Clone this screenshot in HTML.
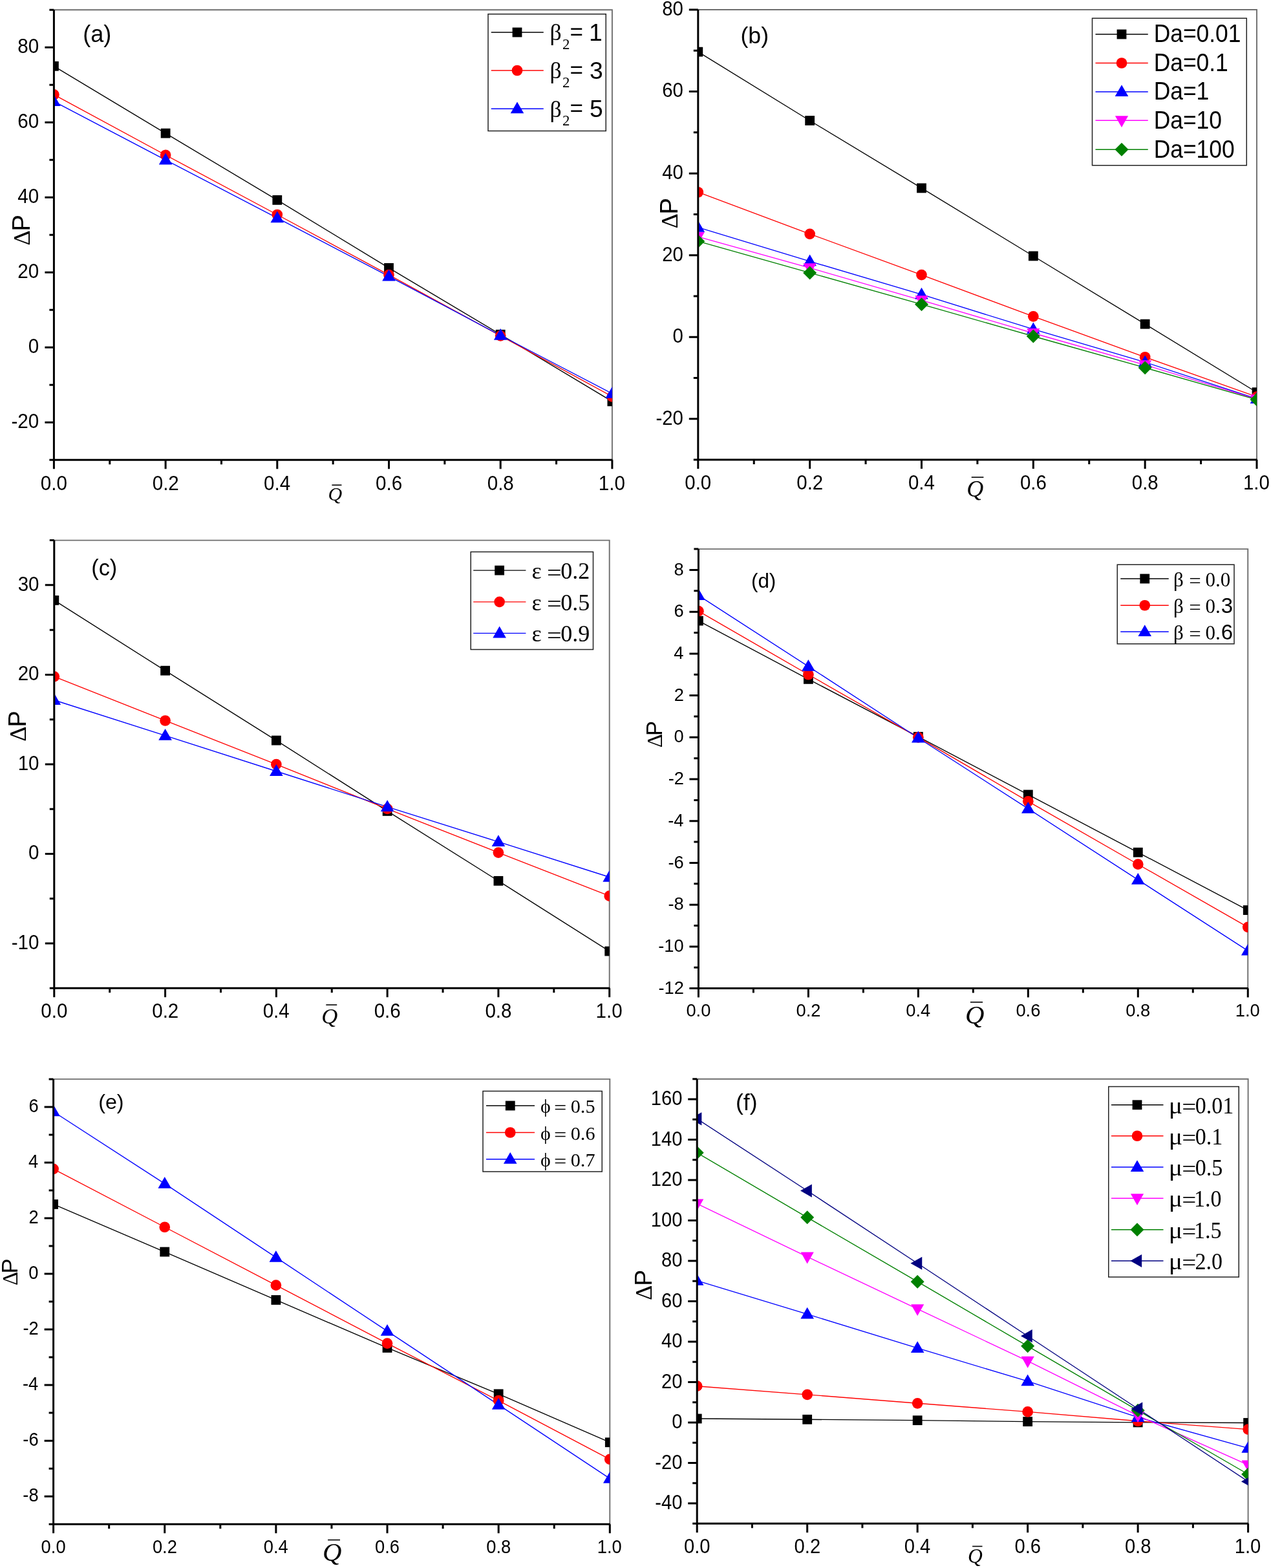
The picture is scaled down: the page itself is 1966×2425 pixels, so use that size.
<!DOCTYPE html>
<html><head><meta charset="utf-8"><title>Figure</title>
<style>html,body{margin:0;padding:0;background:#fff;}svg{display:block;}text{font-kerning:none;fill:#000;}</style></head><body>
<svg width="1966" height="2425" viewBox="0 0 1966 2425">
<rect width="1966" height="2425" fill="#fff"/>
<clipPath id="clipa"><rect x="83.40" y="15.30" width="863.50" height="696.00"/></clipPath>
<path d="M83.40 15.30 H946.90 V711.30" fill="none" stroke="#6e6e6e" stroke-width="1.90"/>
<g clip-path="url(#clipa)">
<polyline points="83.40,102.30 256.10,206.12 428.80,309.36 601.50,414.34 774.20,517.29 946.90,620.82" fill="none" stroke="#000000" stroke-width="1.35" stroke-linejoin="round"/>
<polyline points="83.40,146.38 256.10,239.76 428.80,331.98 601.50,425.07 774.20,519.32 946.90,613.28" fill="none" stroke="#FF0000" stroke-width="1.35" stroke-linejoin="round"/>
<polyline points="83.40,156.82 256.10,247.30 428.80,337.20 601.50,427.39 774.20,518.74 946.90,608.64" fill="none" stroke="#0000FF" stroke-width="1.35" stroke-linejoin="round"/>
<rect x="76.00" y="94.90" width="14.80" height="14.80" fill="#000000"/>
<rect x="248.70" y="198.72" width="14.80" height="14.80" fill="#000000"/>
<rect x="421.40" y="301.96" width="14.80" height="14.80" fill="#000000"/>
<rect x="594.10" y="406.94" width="14.80" height="14.80" fill="#000000"/>
<rect x="766.80" y="509.89" width="14.80" height="14.80" fill="#000000"/>
<rect x="939.50" y="613.42" width="14.80" height="14.80" fill="#000000"/>
<circle cx="83.40" cy="146.38" r="8.35" fill="#FF0000"/>
<circle cx="256.10" cy="239.76" r="8.35" fill="#FF0000"/>
<circle cx="428.80" cy="331.98" r="8.35" fill="#FF0000"/>
<circle cx="601.50" cy="425.07" r="8.35" fill="#FF0000"/>
<circle cx="774.20" cy="519.32" r="8.35" fill="#FF0000"/>
<circle cx="946.90" cy="613.28" r="8.35" fill="#FF0000"/>
<polygon points="83.40,146.14 93.70,163.94 73.10,163.94" fill="#0000FF"/>
<polygon points="256.10,236.62 266.40,254.42 245.80,254.42" fill="#0000FF"/>
<polygon points="428.80,326.52 439.10,344.32 418.50,344.32" fill="#0000FF"/>
<polygon points="601.50,416.71 611.80,434.51 591.20,434.51" fill="#0000FF"/>
<polygon points="774.20,508.06 784.50,525.86 763.90,525.86" fill="#0000FF"/>
<polygon points="946.90,597.96 957.20,615.76 936.60,615.76" fill="#0000FF"/>
</g>
<path d="M76.40 711.30 H83.40 M69.40 653.30 H83.40 M76.40 595.30 H83.40 M69.40 537.30 H83.40 M76.40 479.30 H83.40 M69.40 421.30 H83.40 M76.40 363.30 H83.40 M69.40 305.30 H83.40 M76.40 247.30 H83.40 M69.40 189.30 H83.40 M76.40 131.30 H83.40 M69.40 73.30 H83.40 M76.40 15.30 H83.40 M83.40 711.30 V725.30 M169.75 711.30 V718.30 M256.10 711.30 V725.30 M342.45 711.30 V718.30 M428.80 711.30 V725.30 M515.15 711.30 V718.30 M601.50 711.30 V725.30 M687.85 711.30 V718.30 M774.20 711.30 V725.30 M860.55 711.30 V718.30 M946.90 711.30 V725.30" stroke="#000" stroke-width="3.00" fill="none"/>
<path d="M83.40 15.30 V711.30 H947.40" stroke="#000" stroke-width="3.00" fill="none"/>
<text transform="translate(17.38 662.20) scale(1 1.0500)" x="0" y="0" font-size="29.60" font-family='"Liberation Sans", sans-serif'>-20</text>
<text transform="translate(43.69 546.20) scale(1 1.0500)" x="0" y="0" font-size="29.60" font-family='"Liberation Sans", sans-serif'>0</text>
<text transform="translate(27.23 430.20) scale(1 1.0500)" x="0" y="0" font-size="29.60" font-family='"Liberation Sans", sans-serif'>20</text>
<text transform="translate(27.23 314.20) scale(1 1.0500)" x="0" y="0" font-size="29.60" font-family='"Liberation Sans", sans-serif'>40</text>
<text transform="translate(27.23 198.20) scale(1 1.0500)" x="0" y="0" font-size="29.60" font-family='"Liberation Sans", sans-serif'>60</text>
<text transform="translate(27.23 82.20) scale(1 1.0500)" x="0" y="0" font-size="29.60" font-family='"Liberation Sans", sans-serif'>80</text>
<text transform="translate(62.83 757.50) scale(1 1.0500)" x="0" y="0" font-size="29.60" font-family='"Liberation Sans", sans-serif'>0.0</text>
<text transform="translate(235.69 757.50) scale(1 1.0500)" x="0" y="0" font-size="29.60" font-family='"Liberation Sans", sans-serif'>0.2</text>
<text transform="translate(408.08 757.50) scale(1 1.0500)" x="0" y="0" font-size="29.60" font-family='"Liberation Sans", sans-serif'>0.4</text>
<text transform="translate(581.00 757.50) scale(1 1.0500)" x="0" y="0" font-size="29.60" font-family='"Liberation Sans", sans-serif'>0.6</text>
<text transform="translate(753.69 757.50) scale(1 1.0500)" x="0" y="0" font-size="29.60" font-family='"Liberation Sans", sans-serif'>0.8</text>
<text transform="translate(925.78 757.50) scale(1 1.0500)" x="0" y="0" font-size="29.60" font-family='"Liberation Sans", sans-serif'>1.0</text>
<text x="128.26" y="65.13" font-size="36.07" font-family='"Liberation Sans", sans-serif'>(a)</text>
<text transform="translate(46.40 379.80) rotate(-90)" x="0" y="0" font-size="36.78" font-family='"Liberation Serif", serif'>&#916;</text><text transform="translate(46.40 357.86) rotate(-90)" x="0" y="0" font-size="38.52" font-family='"Liberation Sans", sans-serif'>P</text>
<text x="507.48" y="773.94" font-size="29.97" font-family='"Liberation Serif", serif' font-style="italic">Q</text>
<line x1="513.40" y1="750.20" x2="528.40" y2="750.20" stroke="#000" stroke-width="1.6"/>
<rect x="755.00" y="21.75" width="182.25" height="180.75" fill="none" stroke="#222" stroke-width="1.5"/>
<line x1="759.75" y1="50.00" x2="840.75" y2="50.00" stroke="#000000" stroke-width="1.35"/>
<rect x="792.60" y="42.60" width="14.80" height="14.80" fill="#000000"/>
<text x="850.50" y="62.40" font-size="35.70" font-family='"Liberation Serif", serif'>β</text><text x="869.90" y="75.60" font-size="22.80" font-family='"Liberation Serif", serif'>2</text><text x="881.59" y="61.05" font-size="35.00" font-family='"Liberation Sans", sans-serif'>=</text><text x="911.12" y="62.60" font-size="37.30" font-family='"Liberation Sans", sans-serif'>1</text>
<line x1="759.75" y1="109.00" x2="840.75" y2="109.00" stroke="#FF0000" stroke-width="1.35"/>
<circle cx="800.00" cy="109.00" r="8.35" fill="#FF0000"/>
<text x="850.50" y="121.40" font-size="35.70" font-family='"Liberation Serif", serif'>β</text><text x="869.90" y="134.60" font-size="22.80" font-family='"Liberation Serif", serif'>2</text><text x="881.59" y="120.05" font-size="35.00" font-family='"Liberation Sans", sans-serif'>=</text><text x="911.99" y="121.50" font-size="37.30" font-family='"Liberation Sans", sans-serif'>3</text>
<line x1="759.75" y1="168.25" x2="840.75" y2="168.25" stroke="#0000FF" stroke-width="1.35"/>
<polygon points="800.00,157.57 810.30,175.37 789.70,175.37" fill="#0000FF"/>
<text x="850.50" y="180.65" font-size="35.70" font-family='"Liberation Serif", serif'>β</text><text x="869.90" y="193.85" font-size="22.80" font-family='"Liberation Serif", serif'>2</text><text x="881.59" y="179.30" font-size="35.00" font-family='"Liberation Sans", sans-serif'>=</text><text x="911.92" y="180.75" font-size="37.30" font-family='"Liberation Sans", sans-serif'>5</text>
<clipPath id="clipb"><rect x="1079.80" y="15.00" width="864.20" height="696.10"/></clipPath>
<path d="M1079.80 15.00 H1944.00 V711.10" fill="none" stroke="#6e6e6e" stroke-width="1.90"/>
<g clip-path="url(#clipb)">
<polyline points="1079.80,80.18 1252.64,186.49 1425.48,290.91 1598.32,395.96 1771.16,501.19 1944.00,606.69" fill="none" stroke="#000000" stroke-width="1.35" stroke-linejoin="round"/>
<polyline points="1079.80,297.24 1252.64,361.78 1425.48,425.07 1598.32,489.30 1771.16,552.26 1944.00,613.65" fill="none" stroke="#FF0000" stroke-width="1.35" stroke-linejoin="round"/>
<polyline points="1079.80,351.66 1252.64,404.18 1425.48,455.44 1598.32,509.23 1771.16,560.17 1944.00,616.81" fill="none" stroke="#0000FF" stroke-width="1.35" stroke-linejoin="round"/>
<polyline points="1079.80,366.21 1252.64,414.31 1425.48,464.30 1598.32,515.24 1771.16,564.29 1944.00,617.44" fill="none" stroke="#FF00FF" stroke-width="1.35" stroke-linejoin="round"/>
<polyline points="1079.80,373.18 1252.64,421.90 1425.48,470.63 1598.32,519.99 1771.16,568.72 1944.00,618.08" fill="none" stroke="#008000" stroke-width="1.35" stroke-linejoin="round"/>
<rect x="1072.40" y="72.78" width="14.80" height="14.80" fill="#000000"/>
<rect x="1245.24" y="179.09" width="14.80" height="14.80" fill="#000000"/>
<rect x="1418.08" y="283.51" width="14.80" height="14.80" fill="#000000"/>
<rect x="1590.92" y="388.56" width="14.80" height="14.80" fill="#000000"/>
<rect x="1763.76" y="493.79" width="14.80" height="14.80" fill="#000000"/>
<rect x="1936.60" y="599.29" width="14.80" height="14.80" fill="#000000"/>
<circle cx="1079.80" cy="297.24" r="8.35" fill="#FF0000"/>
<circle cx="1252.64" cy="361.78" r="8.35" fill="#FF0000"/>
<circle cx="1425.48" cy="425.07" r="8.35" fill="#FF0000"/>
<circle cx="1598.32" cy="489.30" r="8.35" fill="#FF0000"/>
<circle cx="1771.16" cy="552.26" r="8.35" fill="#FF0000"/>
<circle cx="1944.00" cy="613.65" r="8.35" fill="#FF0000"/>
<polygon points="1079.80,340.98 1090.10,358.78 1069.50,358.78" fill="#0000FF"/>
<polygon points="1252.64,393.50 1262.94,411.30 1242.34,411.30" fill="#0000FF"/>
<polygon points="1425.48,444.76 1435.78,462.56 1415.18,462.56" fill="#0000FF"/>
<polygon points="1598.32,498.55 1608.62,516.35 1588.02,516.35" fill="#0000FF"/>
<polygon points="1771.16,549.49 1781.46,567.29 1760.86,567.29" fill="#0000FF"/>
<polygon points="1944.00,606.13 1954.30,623.93 1933.70,623.93" fill="#0000FF"/>
<polygon points="1069.70,359.09 1089.90,359.09 1079.80,376.89" fill="#FF00FF"/>
<polygon points="1242.54,407.19 1262.74,407.19 1252.64,424.99" fill="#FF00FF"/>
<polygon points="1415.38,457.18 1435.58,457.18 1425.48,474.98" fill="#FF00FF"/>
<polygon points="1588.22,508.12 1608.42,508.12 1598.32,525.92" fill="#FF00FF"/>
<polygon points="1761.06,557.17 1781.26,557.17 1771.16,574.97" fill="#FF00FF"/>
<polygon points="1933.90,610.32 1954.10,610.32 1944.00,628.12" fill="#FF00FF"/>
<polygon points="1079.80,362.68 1090.30,373.18 1079.80,383.68 1069.30,373.18" fill="#008000"/>
<polygon points="1252.64,411.40 1263.14,421.90 1252.64,432.40 1242.14,421.90" fill="#008000"/>
<polygon points="1425.48,460.13 1435.98,470.63 1425.48,481.13 1414.98,470.63" fill="#008000"/>
<polygon points="1598.32,509.49 1608.82,519.99 1598.32,530.49 1587.82,519.99" fill="#008000"/>
<polygon points="1771.16,558.22 1781.66,568.72 1771.16,579.22 1760.66,568.72" fill="#008000"/>
<polygon points="1944.00,607.58 1954.50,618.08 1944.00,628.58 1933.50,618.08" fill="#008000"/>
</g>
<path d="M1072.80 711.10 H1079.80 M1065.80 647.82 H1079.80 M1072.80 584.54 H1079.80 M1065.80 521.25 H1079.80 M1072.80 457.97 H1079.80 M1065.80 394.69 H1079.80 M1072.80 331.41 H1079.80 M1065.80 268.13 H1079.80 M1072.80 204.85 H1079.80 M1065.80 141.56 H1079.80 M1072.80 78.28 H1079.80 M1065.80 15.00 H1079.80 M1079.80 711.10 V725.10 M1166.22 711.10 V718.10 M1252.64 711.10 V725.10 M1339.06 711.10 V718.10 M1425.48 711.10 V725.10 M1511.90 711.10 V718.10 M1598.32 711.10 V725.10 M1684.74 711.10 V718.10 M1771.16 711.10 V725.10 M1857.58 711.10 V718.10 M1944.00 711.10 V725.10" stroke="#000" stroke-width="3.00" fill="none"/>
<path d="M1079.80 15.00 V711.10 H1944.50" stroke="#000" stroke-width="3.00" fill="none"/>
<text transform="translate(1014.46 656.64) scale(1 1.0500)" x="0" y="0" font-size="29.40" font-family='"Liberation Sans", sans-serif'>-20</text>
<text transform="translate(1040.60 530.08) scale(1 1.0500)" x="0" y="0" font-size="29.40" font-family='"Liberation Sans", sans-serif'>0</text>
<text transform="translate(1024.25 403.52) scale(1 1.0500)" x="0" y="0" font-size="29.40" font-family='"Liberation Sans", sans-serif'>20</text>
<text transform="translate(1024.25 276.95) scale(1 1.0500)" x="0" y="0" font-size="29.40" font-family='"Liberation Sans", sans-serif'>40</text>
<text transform="translate(1024.25 150.39) scale(1 1.0500)" x="0" y="0" font-size="29.40" font-family='"Liberation Sans", sans-serif'>60</text>
<text transform="translate(1024.25 23.83) scale(1 1.0500)" x="0" y="0" font-size="29.40" font-family='"Liberation Sans", sans-serif'>80</text>
<text transform="translate(1059.36 757.38) scale(1 1.0500)" x="0" y="0" font-size="29.40" font-family='"Liberation Sans", sans-serif'>0.0</text>
<text transform="translate(1232.37 757.38) scale(1 1.0500)" x="0" y="0" font-size="29.40" font-family='"Liberation Sans", sans-serif'>0.2</text>
<text transform="translate(1404.90 757.38) scale(1 1.0500)" x="0" y="0" font-size="29.40" font-family='"Liberation Sans", sans-serif'>0.4</text>
<text transform="translate(1577.96 757.38) scale(1 1.0500)" x="0" y="0" font-size="29.40" font-family='"Liberation Sans", sans-serif'>0.6</text>
<text transform="translate(1750.79 757.38) scale(1 1.0500)" x="0" y="0" font-size="29.40" font-family='"Liberation Sans", sans-serif'>0.8</text>
<text transform="translate(1923.02 757.38) scale(1 1.0500)" x="0" y="0" font-size="29.40" font-family='"Liberation Sans", sans-serif'>1.0</text>
<text x="1145.44" y="67.11" font-size="35.69" font-family='"Liberation Sans", sans-serif'>(b)</text>
<text transform="translate(1047.60 353.59) rotate(-90)" x="0" y="0" font-size="36.37" font-family='"Liberation Serif", serif'>&#916;</text><text transform="translate(1047.60 331.49) rotate(-90)" x="0" y="0" font-size="38.08" font-family='"Liberation Sans", sans-serif'>P</text>
<text x="1495.13" y="767.86" font-size="36.03" font-family='"Liberation Serif", serif' font-style="italic">Q</text>
<line x1="1502.70" y1="738.10" x2="1521.40" y2="738.10" stroke="#000" stroke-width="1.6"/>
<rect x="1689.50" y="28.25" width="238.75" height="227.50" fill="none" stroke="#222" stroke-width="1.5"/>
<line x1="1694.50" y1="53.00" x2="1775.75" y2="53.00" stroke="#000000" stroke-width="1.35"/>
<rect x="1727.60" y="45.60" width="14.80" height="14.80" fill="#000000"/>
<text transform="translate(1784.70 65.40) scale(1.0000 1.0700)" x="0" y="0" font-size="35.40" font-family='"Liberation Sans", sans-serif'>Da=0.01</text>
<line x1="1694.50" y1="97.50" x2="1775.75" y2="97.50" stroke="#FF0000" stroke-width="1.35"/>
<circle cx="1735.00" cy="97.50" r="8.35" fill="#FF0000"/>
<text transform="translate(1784.70 109.90) scale(1.0000 1.0700)" x="0" y="0" font-size="35.40" font-family='"Liberation Sans", sans-serif'>Da=0.1</text>
<line x1="1694.50" y1="142.00" x2="1775.75" y2="142.00" stroke="#0000FF" stroke-width="1.35"/>
<polygon points="1735.00,131.32 1745.30,149.12 1724.70,149.12" fill="#0000FF"/>
<text transform="translate(1784.70 154.40) scale(1.0000 1.0700)" x="0" y="0" font-size="35.40" font-family='"Liberation Sans", sans-serif'>Da=1</text>
<line x1="1694.50" y1="186.25" x2="1775.75" y2="186.25" stroke="#FF00FF" stroke-width="1.35"/>
<polygon points="1724.90,179.13 1745.10,179.13 1735.00,196.93" fill="#FF00FF"/>
<text transform="translate(1784.70 198.65) scale(1.0000 1.0700)" x="0" y="0" font-size="35.40" font-family='"Liberation Sans", sans-serif'>Da=10</text>
<line x1="1694.50" y1="231.25" x2="1775.75" y2="231.25" stroke="#008000" stroke-width="1.35"/>
<polygon points="1735.00,220.75 1745.50,231.25 1735.00,241.75 1724.50,231.25" fill="#008000"/>
<text transform="translate(1784.70 243.65) scale(1.0000 1.0700)" x="0" y="0" font-size="35.40" font-family='"Liberation Sans", sans-serif'>Da=100</text>
<clipPath id="clipc"><rect x="83.80" y="835.60" width="858.90" height="692.70"/></clipPath>
<path d="M83.80 835.60 H942.70 V1528.30" fill="none" stroke="#6e6e6e" stroke-width="1.90"/>
<g clip-path="url(#clipc)">
<polyline points="83.80,928.42 255.58,1037.18 427.36,1145.10 599.14,1254.41 770.92,1362.33 942.70,1471.08" fill="none" stroke="#000000" stroke-width="1.35" stroke-linejoin="round"/>
<polyline points="83.80,1046.46 255.58,1114.48 427.36,1182.09 599.14,1250.94 770.92,1318.55 942.70,1385.60" fill="none" stroke="#FF0000" stroke-width="1.35" stroke-linejoin="round"/>
<polyline points="83.80,1082.76 255.58,1137.62 427.36,1192.76 599.14,1247.90 770.92,1301.93 942.70,1356.51" fill="none" stroke="#0000FF" stroke-width="1.35" stroke-linejoin="round"/>
<rect x="76.40" y="921.02" width="14.80" height="14.80" fill="#000000"/>
<rect x="248.18" y="1029.78" width="14.80" height="14.80" fill="#000000"/>
<rect x="419.96" y="1137.70" width="14.80" height="14.80" fill="#000000"/>
<rect x="591.74" y="1247.01" width="14.80" height="14.80" fill="#000000"/>
<rect x="763.52" y="1354.93" width="14.80" height="14.80" fill="#000000"/>
<rect x="935.30" y="1463.68" width="14.80" height="14.80" fill="#000000"/>
<circle cx="83.80" cy="1046.46" r="8.35" fill="#FF0000"/>
<circle cx="255.58" cy="1114.48" r="8.35" fill="#FF0000"/>
<circle cx="427.36" cy="1182.09" r="8.35" fill="#FF0000"/>
<circle cx="599.14" cy="1250.94" r="8.35" fill="#FF0000"/>
<circle cx="770.92" cy="1318.55" r="8.35" fill="#FF0000"/>
<circle cx="942.70" cy="1385.60" r="8.35" fill="#FF0000"/>
<polygon points="83.80,1072.08 94.10,1089.88 73.50,1089.88" fill="#0000FF"/>
<polygon points="255.58,1126.94 265.88,1144.74 245.28,1144.74" fill="#0000FF"/>
<polygon points="427.36,1182.08 437.66,1199.88 417.06,1199.88" fill="#0000FF"/>
<polygon points="599.14,1237.22 609.44,1255.02 588.84,1255.02" fill="#0000FF"/>
<polygon points="770.92,1291.25 781.22,1309.05 760.62,1309.05" fill="#0000FF"/>
<polygon points="942.70,1345.83 953.00,1363.63 932.40,1363.63" fill="#0000FF"/>
</g>
<path d="M76.80 1528.30 H83.80 M69.80 1459.03 H83.80 M76.80 1389.76 H83.80 M69.80 1320.49 H83.80 M76.80 1251.22 H83.80 M69.80 1181.95 H83.80 M76.80 1112.68 H83.80 M69.80 1043.41 H83.80 M76.80 974.14 H83.80 M69.80 904.87 H83.80 M76.80 835.60 H83.80 M83.80 1528.30 V1542.30 M169.69 1528.30 V1535.30 M255.58 1528.30 V1542.30 M341.47 1528.30 V1535.30 M427.36 1528.30 V1542.30 M513.25 1528.30 V1535.30 M599.14 1528.30 V1542.30 M685.03 1528.30 V1535.30 M770.92 1528.30 V1542.30 M856.81 1528.30 V1535.30 M942.70 1528.30 V1542.30" stroke="#000" stroke-width="3.00" fill="none"/>
<path d="M83.80 835.60 V1528.30 H943.20" stroke="#000" stroke-width="3.00" fill="none"/>
<text transform="translate(17.77 1467.98) scale(1 1.0750)" x="0" y="0" font-size="29.60" font-family='"Liberation Sans", sans-serif'>-10</text>
<text transform="translate(44.09 1329.44) scale(1 1.0750)" x="0" y="0" font-size="29.60" font-family='"Liberation Sans", sans-serif'>0</text>
<text transform="translate(27.63 1190.90) scale(1 1.0750)" x="0" y="0" font-size="29.60" font-family='"Liberation Sans", sans-serif'>10</text>
<text transform="translate(27.63 1052.36) scale(1 1.0750)" x="0" y="0" font-size="29.60" font-family='"Liberation Sans", sans-serif'>20</text>
<text transform="translate(27.63 913.82) scale(1 1.0750)" x="0" y="0" font-size="29.60" font-family='"Liberation Sans", sans-serif'>30</text>
<text transform="translate(63.23 1574.15) scale(1 1.0750)" x="0" y="0" font-size="29.60" font-family='"Liberation Sans", sans-serif'>0.0</text>
<text transform="translate(235.17 1574.15) scale(1 1.0750)" x="0" y="0" font-size="29.60" font-family='"Liberation Sans", sans-serif'>0.2</text>
<text transform="translate(406.64 1574.15) scale(1 1.0750)" x="0" y="0" font-size="29.60" font-family='"Liberation Sans", sans-serif'>0.4</text>
<text transform="translate(578.64 1574.15) scale(1 1.0750)" x="0" y="0" font-size="29.60" font-family='"Liberation Sans", sans-serif'>0.6</text>
<text transform="translate(750.41 1574.15) scale(1 1.0750)" x="0" y="0" font-size="29.60" font-family='"Liberation Sans", sans-serif'>0.8</text>
<text transform="translate(921.58 1574.15) scale(1 1.0750)" x="0" y="0" font-size="29.60" font-family='"Liberation Sans", sans-serif'>1.0</text>
<text x="141.22" y="890.39" font-size="34.35" font-family='"Liberation Sans", sans-serif'>(c)</text>
<text transform="translate(39.80 1146.68) rotate(-90)" x="0" y="0" font-size="36.23" font-family='"Liberation Serif", serif'>&#916;</text><text transform="translate(39.80 1124.60) rotate(-90)" x="0" y="0" font-size="37.94" font-family='"Liberation Sans", sans-serif'>P</text>
<text x="497.24" y="1582.97" font-size="34.70" font-family='"Liberation Serif", serif' font-style="italic">Q</text>
<line x1="504.30" y1="1554.10" x2="521.20" y2="1554.10" stroke="#000" stroke-width="1.6"/>
<rect x="728.20" y="853.50" width="189.30" height="151.00" fill="none" stroke="#222" stroke-width="1.5"/>
<line x1="732.20" y1="882.10" x2="813.40" y2="882.10" stroke="#000000" stroke-width="1.35"/>
<rect x="765.20" y="874.70" width="14.80" height="14.80" fill="#000000"/>
<text x="822.61" y="894.80" font-size="36.00" font-family='"Liberation Serif", serif'>ε</text><text transform="translate(845.99 897.70) scale(1.1200 1.0000)" x="0" y="0" font-size="36.00" font-family='"Liberation Serif", serif'>=</text><text x="867.23" y="894.80" font-size="36.00" font-family='"Liberation Serif", serif'>0.2</text>
<line x1="732.20" y1="930.80" x2="813.40" y2="930.80" stroke="#FF0000" stroke-width="1.35"/>
<circle cx="772.60" cy="930.80" r="8.35" fill="#FF0000"/>
<text x="822.61" y="943.50" font-size="36.00" font-family='"Liberation Serif", serif'>ε</text><text transform="translate(845.99 946.40) scale(1.1200 1.0000)" x="0" y="0" font-size="36.00" font-family='"Liberation Serif", serif'>=</text><text x="867.23" y="943.50" font-size="36.00" font-family='"Liberation Serif", serif'>0.5</text>
<line x1="732.20" y1="979.30" x2="813.40" y2="979.30" stroke="#0000FF" stroke-width="1.35"/>
<polygon points="772.60,968.62 782.90,986.42 762.30,986.42" fill="#0000FF"/>
<text x="822.61" y="992.00" font-size="36.00" font-family='"Liberation Serif", serif'>ε</text><text transform="translate(845.99 994.90) scale(1.1200 1.0000)" x="0" y="0" font-size="36.00" font-family='"Liberation Serif", serif'>=</text><text x="867.23" y="992.00" font-size="36.00" font-family='"Liberation Serif", serif'>0.9</text>
<clipPath id="clipd"><rect x="1080.40" y="849.10" width="849.85" height="679.50"/></clipPath>
<path d="M1080.40 849.10 H1930.25 V1528.60" fill="none" stroke="#6e6e6e" stroke-width="1.90"/>
<g clip-path="url(#clipd)">
<polyline points="1080.40,960.09 1250.37,1050.36 1420.34,1139.34 1590.31,1228.97 1760.28,1318.28 1930.25,1407.58" fill="none" stroke="#000000" stroke-width="1.35" stroke-linejoin="round"/>
<polyline points="1080.40,945.20 1250.37,1043.24 1420.34,1140.31 1590.31,1239.33 1760.28,1336.72 1930.25,1433.79" fill="none" stroke="#FF0000" stroke-width="1.35" stroke-linejoin="round"/>
<polyline points="1080.40,920.93 1250.37,1030.62 1420.34,1141.28 1590.31,1250.65 1760.28,1360.67 1930.25,1470.36" fill="none" stroke="#0000FF" stroke-width="1.35" stroke-linejoin="round"/>
<rect x="1073.00" y="952.69" width="14.80" height="14.80" fill="#000000"/>
<rect x="1242.97" y="1042.96" width="14.80" height="14.80" fill="#000000"/>
<rect x="1412.94" y="1131.94" width="14.80" height="14.80" fill="#000000"/>
<rect x="1582.91" y="1221.57" width="14.80" height="14.80" fill="#000000"/>
<rect x="1752.88" y="1310.88" width="14.80" height="14.80" fill="#000000"/>
<rect x="1922.85" y="1400.18" width="14.80" height="14.80" fill="#000000"/>
<circle cx="1080.40" cy="945.20" r="8.35" fill="#FF0000"/>
<circle cx="1250.37" cy="1043.24" r="8.35" fill="#FF0000"/>
<circle cx="1420.34" cy="1140.31" r="8.35" fill="#FF0000"/>
<circle cx="1590.31" cy="1239.33" r="8.35" fill="#FF0000"/>
<circle cx="1760.28" cy="1336.72" r="8.35" fill="#FF0000"/>
<circle cx="1930.25" cy="1433.79" r="8.35" fill="#FF0000"/>
<polygon points="1080.40,910.25 1090.70,928.05 1070.10,928.05" fill="#0000FF"/>
<polygon points="1250.37,1019.94 1260.67,1037.74 1240.07,1037.74" fill="#0000FF"/>
<polygon points="1420.34,1130.60 1430.64,1148.40 1410.04,1148.40" fill="#0000FF"/>
<polygon points="1590.31,1239.97 1600.61,1257.77 1580.01,1257.77" fill="#0000FF"/>
<polygon points="1760.28,1349.99 1770.58,1367.79 1749.98,1367.79" fill="#0000FF"/>
<polygon points="1930.25,1459.68 1940.55,1477.48 1919.95,1477.48" fill="#0000FF"/>
</g>
<path d="M1066.40 1528.60 H1080.40 M1073.40 1496.24 H1080.40 M1066.40 1463.89 H1080.40 M1073.40 1431.53 H1080.40 M1066.40 1399.17 H1080.40 M1073.40 1366.81 H1080.40 M1066.40 1334.46 H1080.40 M1073.40 1302.10 H1080.40 M1066.40 1269.74 H1080.40 M1073.40 1237.39 H1080.40 M1066.40 1205.03 H1080.40 M1073.40 1172.67 H1080.40 M1066.40 1140.31 H1080.40 M1073.40 1107.96 H1080.40 M1066.40 1075.60 H1080.40 M1073.40 1043.24 H1080.40 M1066.40 1010.89 H1080.40 M1073.40 978.53 H1080.40 M1066.40 946.17 H1080.40 M1073.40 913.81 H1080.40 M1066.40 881.46 H1080.40 M1073.40 849.10 H1080.40 M1080.40 1528.60 V1542.60 M1165.38 1528.60 V1535.60 M1250.37 1528.60 V1542.60 M1335.36 1528.60 V1535.60 M1420.34 1528.60 V1542.60 M1505.33 1528.60 V1535.60 M1590.31 1528.60 V1542.60 M1675.30 1528.60 V1535.60 M1760.28 1528.60 V1542.60 M1845.26 1528.60 V1535.60 M1930.25 1528.60 V1542.60" stroke="#000" stroke-width="3.00" fill="none"/>
<path d="M1080.40 849.10 V1528.60 H1930.75" stroke="#000" stroke-width="3.00" fill="none"/>
<text transform="translate(1018.52 1536.92) scale(1 1.0300)" x="0" y="0" font-size="27.30" font-family='"Liberation Sans", sans-serif'>-12</text>
<text transform="translate(1018.21 1472.07) scale(1 1.0300)" x="0" y="0" font-size="27.30" font-family='"Liberation Sans", sans-serif'>-10</text>
<text transform="translate(1033.51 1407.35) scale(1 1.0300)" x="0" y="0" font-size="27.30" font-family='"Liberation Sans", sans-serif'>-8</text>
<text transform="translate(1033.53 1342.64) scale(1 1.0300)" x="0" y="0" font-size="27.30" font-family='"Liberation Sans", sans-serif'>-6</text>
<text transform="translate(1033.13 1277.92) scale(1 1.0300)" x="0" y="0" font-size="27.30" font-family='"Liberation Sans", sans-serif'>-4</text>
<text transform="translate(1033.70 1213.35) scale(1 1.0300)" x="0" y="0" font-size="27.30" font-family='"Liberation Sans", sans-serif'>-2</text>
<text transform="translate(1042.48 1148.49) scale(1 1.0300)" x="0" y="0" font-size="27.30" font-family='"Liberation Sans", sans-serif'>0</text>
<text transform="translate(1042.79 1083.92) scale(1 1.0300)" x="0" y="0" font-size="27.30" font-family='"Liberation Sans", sans-serif'>2</text>
<text transform="translate(1042.22 1019.06) scale(1 1.0300)" x="0" y="0" font-size="27.30" font-family='"Liberation Sans", sans-serif'>4</text>
<text transform="translate(1042.62 954.35) scale(1 1.0300)" x="0" y="0" font-size="27.30" font-family='"Liberation Sans", sans-serif'>6</text>
<text transform="translate(1042.60 889.64) scale(1 1.0300)" x="0" y="0" font-size="27.30" font-family='"Liberation Sans", sans-serif'>8</text>
<text transform="translate(1061.42 1572.38) scale(1 1.0300)" x="0" y="0" font-size="27.30" font-family='"Liberation Sans", sans-serif'>0.0</text>
<text transform="translate(1231.55 1572.38) scale(1 1.0300)" x="0" y="0" font-size="27.30" font-family='"Liberation Sans", sans-serif'>0.2</text>
<text transform="translate(1401.23 1572.38) scale(1 1.0300)" x="0" y="0" font-size="27.30" font-family='"Liberation Sans", sans-serif'>0.4</text>
<text transform="translate(1571.40 1572.38) scale(1 1.0300)" x="0" y="0" font-size="27.30" font-family='"Liberation Sans", sans-serif'>0.6</text>
<text transform="translate(1741.36 1572.38) scale(1 1.0300)" x="0" y="0" font-size="27.30" font-family='"Liberation Sans", sans-serif'>0.8</text>
<text transform="translate(1910.77 1572.38) scale(1 1.0300)" x="0" y="0" font-size="27.30" font-family='"Liberation Sans", sans-serif'>1.0</text>
<text x="1161.94" y="909.00" font-size="31.40" font-family='"Liberation Sans", sans-serif'>(d)</text>
<text transform="translate(1024.30 1156.25) rotate(-90)" x="0" y="0" font-size="32.90" font-family='"Liberation Serif", serif'>&#916;</text><text transform="translate(1024.30 1137.91) rotate(-90)" x="0" y="0" font-size="34.45" font-family='"Liberation Sans", sans-serif'>P</text>
<text x="1492.98" y="1583.29" font-size="40.77" font-family='"Liberation Serif", serif' font-style="italic">Q</text>
<line x1="1500.90" y1="1549.90" x2="1520.10" y2="1549.90" stroke="#000" stroke-width="1.6"/>
<rect x="1728.25" y="873.25" width="180.75" height="122.50" fill="none" stroke="#222" stroke-width="1.5"/>
<line x1="1733.25" y1="895.00" x2="1807.75" y2="895.00" stroke="#000000" stroke-width="1.35"/>
<rect x="1763.35" y="887.60" width="14.80" height="14.80" fill="#000000"/>
<text x="1815.00" y="906.50" font-size="31.00" font-family='"Liberation Serif", serif'>β</text><text transform="translate(1839.16 908.90) scale(1.0600 1.0000)" x="0" y="0" font-size="31.00" font-family='"Liberation Serif", serif'>=</text><text x="1864.42" y="906.50" font-size="31.00" font-family='"Liberation Serif", serif'>0.0</text>
<line x1="1733.25" y1="936.25" x2="1807.75" y2="936.25" stroke="#FF0000" stroke-width="1.35"/>
<circle cx="1770.75" cy="936.25" r="8.35" fill="#FF0000"/>
<text x="1815.00" y="947.75" font-size="31.00" font-family='"Liberation Serif", serif'>β</text><text transform="translate(1839.16 950.15) scale(1.0600 1.0000)" x="0" y="0" font-size="31.00" font-family='"Liberation Serif", serif'>=</text><text x="1864.42" y="947.75" font-size="31.00" font-family='"Liberation Serif", serif'>0.</text><text x="1888.70" y="947.85" font-size="33.00" font-family='"Liberation Sans", sans-serif'>3</text>
<line x1="1733.25" y1="977.00" x2="1807.75" y2="977.00" stroke="#0000FF" stroke-width="1.35"/>
<polygon points="1770.75,966.32 1781.05,984.12 1760.45,984.12" fill="#0000FF"/>
<text x="1815.00" y="988.50" font-size="31.00" font-family='"Liberation Serif", serif'>β</text><text transform="translate(1839.16 990.90) scale(1.0600 1.0000)" x="0" y="0" font-size="31.00" font-family='"Liberation Serif", serif'>=</text><text x="1864.42" y="988.50" font-size="31.00" font-family='"Liberation Serif", serif'>0.</text><text x="1888.70" y="988.60" font-size="33.00" font-family='"Liberation Sans", sans-serif'>6</text>
<clipPath id="clipe"><rect x="82.60" y="1668.90" width="860.70" height="688.30"/></clipPath>
<path d="M82.60 1668.90 H943.30 V2357.20" fill="none" stroke="#6e6e6e" stroke-width="1.90"/>
<g clip-path="url(#clipe)">
<polyline points="82.60,1862.48 254.74,1936.05 426.88,2010.47 599.02,2084.46 771.16,2155.87 943.30,2230.72" fill="none" stroke="#000000" stroke-width="1.35" stroke-linejoin="round"/>
<polyline points="82.60,1807.85 254.74,1897.76 426.88,1987.67 599.02,2077.58 771.16,2166.20 943.30,2256.97" fill="none" stroke="#FF0000" stroke-width="1.35" stroke-linejoin="round"/>
<polyline points="82.60,1719.23 254.74,1830.65 426.88,1944.65 599.02,2058.65 771.16,2172.65 943.30,2286.65" fill="none" stroke="#0000FF" stroke-width="1.35" stroke-linejoin="round"/>
<rect x="75.20" y="1855.08" width="14.80" height="14.80" fill="#000000"/>
<rect x="247.34" y="1928.65" width="14.80" height="14.80" fill="#000000"/>
<rect x="419.48" y="2003.07" width="14.80" height="14.80" fill="#000000"/>
<rect x="591.62" y="2077.06" width="14.80" height="14.80" fill="#000000"/>
<rect x="763.76" y="2148.47" width="14.80" height="14.80" fill="#000000"/>
<rect x="935.90" y="2223.32" width="14.80" height="14.80" fill="#000000"/>
<circle cx="82.60" cy="1807.85" r="8.35" fill="#FF0000"/>
<circle cx="254.74" cy="1897.76" r="8.35" fill="#FF0000"/>
<circle cx="426.88" cy="1987.67" r="8.35" fill="#FF0000"/>
<circle cx="599.02" cy="2077.58" r="8.35" fill="#FF0000"/>
<circle cx="771.16" cy="2166.20" r="8.35" fill="#FF0000"/>
<circle cx="943.30" cy="2256.97" r="8.35" fill="#FF0000"/>
<polygon points="82.60,1708.55 92.90,1726.35 72.30,1726.35" fill="#0000FF"/>
<polygon points="254.74,1819.97 265.04,1837.77 244.44,1837.77" fill="#0000FF"/>
<polygon points="426.88,1933.97 437.18,1951.77 416.58,1951.77" fill="#0000FF"/>
<polygon points="599.02,2047.97 609.32,2065.77 588.72,2065.77" fill="#0000FF"/>
<polygon points="771.16,2161.97 781.46,2179.77 760.86,2179.77" fill="#0000FF"/>
<polygon points="943.30,2275.97 953.60,2293.77 933.00,2293.77" fill="#0000FF"/>
</g>
<path d="M75.60 2357.20 H82.60 M68.60 2314.18 H82.60 M75.60 2271.16 H82.60 M68.60 2228.14 H82.60 M75.60 2185.12 H82.60 M68.60 2142.11 H82.60 M75.60 2099.09 H82.60 M68.60 2056.07 H82.60 M75.60 2013.05 H82.60 M68.60 1970.03 H82.60 M75.60 1927.01 H82.60 M68.60 1883.99 H82.60 M75.60 1840.97 H82.60 M68.60 1797.96 H82.60 M75.60 1754.94 H82.60 M68.60 1711.92 H82.60 M75.60 1668.90 H82.60 M82.60 2357.20 V2371.20 M168.67 2357.20 V2364.20 M254.74 2357.20 V2371.20 M340.81 2357.20 V2364.20 M426.88 2357.20 V2371.20 M512.95 2357.20 V2364.20 M599.02 2357.20 V2371.20 M685.09 2357.20 V2364.20 M771.16 2357.20 V2371.20 M857.23 2357.20 V2364.20 M943.30 2357.20 V2371.20" stroke="#000" stroke-width="3.00" fill="none"/>
<path d="M82.60 1668.90 V2357.20 H943.80" stroke="#000" stroke-width="3.00" fill="none"/>
<text transform="translate(35.31 2322.28) scale(1 1.0750)" x="0" y="0" font-size="27.30" font-family='"Liberation Sans", sans-serif'>-8</text>
<text transform="translate(35.33 2236.25) scale(1 1.0750)" x="0" y="0" font-size="27.30" font-family='"Liberation Sans", sans-serif'>-6</text>
<text transform="translate(34.93 2150.20) scale(1 1.0750)" x="0" y="0" font-size="27.30" font-family='"Liberation Sans", sans-serif'>-4</text>
<text transform="translate(35.50 2064.31) scale(1 1.0750)" x="0" y="0" font-size="27.30" font-family='"Liberation Sans", sans-serif'>-2</text>
<text transform="translate(44.28 1978.13) scale(1 1.0750)" x="0" y="0" font-size="27.30" font-family='"Liberation Sans", sans-serif'>0</text>
<text transform="translate(44.59 1892.24) scale(1 1.0750)" x="0" y="0" font-size="27.30" font-family='"Liberation Sans", sans-serif'>2</text>
<text transform="translate(44.02 1806.05) scale(1 1.0750)" x="0" y="0" font-size="27.30" font-family='"Liberation Sans", sans-serif'>4</text>
<text transform="translate(44.42 1720.02) scale(1 1.0750)" x="0" y="0" font-size="27.30" font-family='"Liberation Sans", sans-serif'>6</text>
<text transform="translate(63.62 2401.75) scale(1 1.0750)" x="0" y="0" font-size="27.30" font-family='"Liberation Sans", sans-serif'>0.0</text>
<text transform="translate(235.92 2401.75) scale(1 1.0750)" x="0" y="0" font-size="27.30" font-family='"Liberation Sans", sans-serif'>0.2</text>
<text transform="translate(407.77 2401.75) scale(1 1.0750)" x="0" y="0" font-size="27.30" font-family='"Liberation Sans", sans-serif'>0.4</text>
<text transform="translate(580.11 2401.75) scale(1 1.0750)" x="0" y="0" font-size="27.30" font-family='"Liberation Sans", sans-serif'>0.6</text>
<text transform="translate(752.24 2401.75) scale(1 1.0750)" x="0" y="0" font-size="27.30" font-family='"Liberation Sans", sans-serif'>0.8</text>
<text transform="translate(923.82 2401.75) scale(1 1.0750)" x="0" y="0" font-size="27.30" font-family='"Liberation Sans", sans-serif'>1.0</text>
<text x="152.20" y="1714.58" font-size="32.20" font-family='"Liberation Sans", sans-serif'>(e)</text>
<text transform="translate(26.70 1988.05) rotate(-90)" x="0" y="0" font-size="32.90" font-family='"Liberation Serif", serif'>&#916;</text><text transform="translate(26.70 1969.46) rotate(-90)" x="0" y="0" font-size="34.45" font-family='"Liberation Sans", sans-serif'>P</text>
<text x="498.98" y="2414.39" font-size="40.77" font-family='"Liberation Serif", serif' font-style="italic">Q</text>
<line x1="507.10" y1="2381.60" x2="526.00" y2="2381.60" stroke="#000" stroke-width="1.6"/>
<rect x="747.00" y="1687.50" width="184.25" height="124.50" fill="none" stroke="#222" stroke-width="1.5"/>
<line x1="752.00" y1="1710.00" x2="827.00" y2="1710.00" stroke="#000000" stroke-width="1.35"/>
<rect x="781.85" y="1702.60" width="14.80" height="14.80" fill="#000000"/>
<text x="836.00" y="1721.20" font-size="29.80" font-family='"Liberation Serif", serif'>ϕ</text><text transform="translate(857.09 1723.40) scale(1.1500 1.0000)" x="0" y="0" font-size="29.80" font-family='"Liberation Serif", serif'>=</text><text x="882.75" y="1721.20" font-size="30.20" font-family='"Liberation Serif", serif'>0.5</text>
<line x1="752.00" y1="1751.50" x2="827.00" y2="1751.50" stroke="#FF0000" stroke-width="1.35"/>
<circle cx="789.25" cy="1751.50" r="8.35" fill="#FF0000"/>
<text x="836.00" y="1762.70" font-size="29.80" font-family='"Liberation Serif", serif'>ϕ</text><text transform="translate(857.09 1764.90) scale(1.1500 1.0000)" x="0" y="0" font-size="29.80" font-family='"Liberation Serif", serif'>=</text><text x="882.75" y="1762.70" font-size="30.20" font-family='"Liberation Serif", serif'>0.6</text>
<line x1="752.00" y1="1792.75" x2="827.00" y2="1792.75" stroke="#0000FF" stroke-width="1.35"/>
<polygon points="789.25,1782.07 799.55,1799.87 778.95,1799.87" fill="#0000FF"/>
<text x="836.00" y="1803.95" font-size="29.80" font-family='"Liberation Serif", serif'>ϕ</text><text transform="translate(857.09 1806.15) scale(1.1500 1.0000)" x="0" y="0" font-size="29.80" font-family='"Liberation Serif", serif'>=</text><text x="882.75" y="1803.95" font-size="30.20" font-family='"Liberation Serif", serif'>0.7</text>
<clipPath id="clipf"><rect x="1078.20" y="1668.75" width="852.40" height="687.45"/></clipPath>
<path d="M1078.20 1668.75 H1930.60 V2356.20" fill="none" stroke="#6e6e6e" stroke-width="1.90"/>
<g clip-path="url(#clipf)">
<polyline points="1078.20,2194.02 1248.68,2195.27 1419.16,2196.65 1589.64,2198.56 1760.12,2199.87 1930.60,2200.46" fill="none" stroke="#000000" stroke-width="1.35" stroke-linejoin="round"/>
<polyline points="1078.20,2143.72 1248.68,2156.84 1419.16,2170.28 1589.64,2183.40 1760.12,2197.77 1930.60,2210.59" fill="none" stroke="#FF0000" stroke-width="1.35" stroke-linejoin="round"/>
<polyline points="1078.20,1980.60 1248.68,2032.47 1419.16,2084.97 1589.64,2136.22 1760.12,2191.96 1930.60,2239.65" fill="none" stroke="#0000FF" stroke-width="1.35" stroke-linejoin="round"/>
<polyline points="1078.20,1861.55 1248.68,1943.73 1419.16,2024.35 1589.64,2104.97 1760.12,2189.34 1930.60,2265.58" fill="none" stroke="#FF00FF" stroke-width="1.35" stroke-linejoin="round"/>
<polyline points="1078.20,1782.80 1248.68,1882.80 1419.16,1982.16 1589.64,2081.84 1760.12,2181.37 1930.60,2279.96" fill="none" stroke="#008000" stroke-width="1.35" stroke-linejoin="round"/>
<polyline points="1078.20,1730.31 1248.68,1841.55 1419.16,1953.73 1589.64,2066.22 1760.12,2178.71 1930.60,2291.20" fill="none" stroke="#000080" stroke-width="1.35" stroke-linejoin="round"/>
<rect x="1070.80" y="2186.62" width="14.80" height="14.80" fill="#000000"/>
<rect x="1241.28" y="2187.87" width="14.80" height="14.80" fill="#000000"/>
<rect x="1411.76" y="2189.25" width="14.80" height="14.80" fill="#000000"/>
<rect x="1582.24" y="2191.16" width="14.80" height="14.80" fill="#000000"/>
<rect x="1752.72" y="2192.47" width="14.80" height="14.80" fill="#000000"/>
<rect x="1923.20" y="2193.06" width="14.80" height="14.80" fill="#000000"/>
<circle cx="1078.20" cy="2143.72" r="8.35" fill="#FF0000"/>
<circle cx="1248.68" cy="2156.84" r="8.35" fill="#FF0000"/>
<circle cx="1419.16" cy="2170.28" r="8.35" fill="#FF0000"/>
<circle cx="1589.64" cy="2183.40" r="8.35" fill="#FF0000"/>
<circle cx="1760.12" cy="2197.77" r="8.35" fill="#FF0000"/>
<circle cx="1930.60" cy="2210.59" r="8.35" fill="#FF0000"/>
<polygon points="1078.20,1969.92 1088.50,1987.72 1067.90,1987.72" fill="#0000FF"/>
<polygon points="1248.68,2021.79 1258.98,2039.59 1238.38,2039.59" fill="#0000FF"/>
<polygon points="1419.16,2074.29 1429.46,2092.09 1408.86,2092.09" fill="#0000FF"/>
<polygon points="1589.64,2125.54 1599.94,2143.34 1579.34,2143.34" fill="#0000FF"/>
<polygon points="1760.12,2181.28 1770.42,2199.08 1749.82,2199.08" fill="#0000FF"/>
<polygon points="1930.60,2228.97 1940.90,2246.77 1920.30,2246.77" fill="#0000FF"/>
<polygon points="1068.10,1854.43 1088.30,1854.43 1078.20,1872.23" fill="#FF00FF"/>
<polygon points="1238.58,1936.61 1258.78,1936.61 1248.68,1954.41" fill="#FF00FF"/>
<polygon points="1409.06,2017.23 1429.26,2017.23 1419.16,2035.03" fill="#FF00FF"/>
<polygon points="1579.54,2097.85 1599.74,2097.85 1589.64,2115.65" fill="#FF00FF"/>
<polygon points="1750.02,2182.22 1770.22,2182.22 1760.12,2200.02" fill="#FF00FF"/>
<polygon points="1920.50,2258.46 1940.70,2258.46 1930.60,2276.26" fill="#FF00FF"/>
<polygon points="1078.20,1772.30 1088.70,1782.80 1078.20,1793.30 1067.70,1782.80" fill="#008000"/>
<polygon points="1248.68,1872.30 1259.18,1882.80 1248.68,1893.30 1238.18,1882.80" fill="#008000"/>
<polygon points="1419.16,1971.66 1429.66,1982.16 1419.16,1992.66 1408.66,1982.16" fill="#008000"/>
<polygon points="1589.64,2071.34 1600.14,2081.84 1589.64,2092.34 1579.14,2081.84" fill="#008000"/>
<polygon points="1760.12,2170.87 1770.62,2181.37 1760.12,2191.87 1749.62,2181.37" fill="#008000"/>
<polygon points="1930.60,2269.46 1941.10,2279.96 1930.60,2290.46 1920.10,2279.96" fill="#008000"/>
<polygon points="1067.52,1730.31 1085.32,1720.21 1085.32,1740.41" fill="#000080"/>
<polygon points="1238.00,1841.55 1255.80,1831.45 1255.80,1851.65" fill="#000080"/>
<polygon points="1408.48,1953.73 1426.28,1943.63 1426.28,1963.83" fill="#000080"/>
<polygon points="1578.96,2066.22 1596.76,2056.12 1596.76,2076.32" fill="#000080"/>
<polygon points="1749.44,2178.71 1767.24,2168.61 1767.24,2188.81" fill="#000080"/>
<polygon points="1919.92,2291.20 1937.72,2281.10 1937.72,2301.30" fill="#000080"/>
</g>
<path d="M1071.20 2356.20 H1078.20 M1064.20 2324.95 H1078.20 M1071.20 2293.70 H1078.20 M1064.20 2262.46 H1078.20 M1071.20 2231.21 H1078.20 M1064.20 2199.96 H1078.20 M1071.20 2168.71 H1078.20 M1064.20 2137.47 H1078.20 M1071.20 2106.22 H1078.20 M1064.20 2074.97 H1078.20 M1071.20 2043.72 H1078.20 M1064.20 2012.47 H1078.20 M1071.20 1981.23 H1078.20 M1064.20 1949.98 H1078.20 M1071.20 1918.73 H1078.20 M1064.20 1887.48 H1078.20 M1071.20 1856.24 H1078.20 M1064.20 1824.99 H1078.20 M1071.20 1793.74 H1078.20 M1064.20 1762.49 H1078.20 M1071.20 1731.25 H1078.20 M1064.20 1700.00 H1078.20 M1071.20 1668.75 H1078.20 M1078.20 2356.20 V2370.20 M1163.44 2356.20 V2363.20 M1248.68 2356.20 V2370.20 M1333.92 2356.20 V2363.20 M1419.16 2356.20 V2370.20 M1504.40 2356.20 V2363.20 M1589.64 2356.20 V2370.20 M1674.88 2356.20 V2363.20 M1760.12 2356.20 V2370.20 M1845.36 2356.20 V2363.20 M1930.60 2356.20 V2370.20" stroke="#000" stroke-width="3.00" fill="none"/>
<path d="M1078.20 1668.75 V2356.20 H1931.10" stroke="#000" stroke-width="3.00" fill="none"/>
<text transform="translate(1013.24 2334.31) scale(1 1.0500)" x="0" y="0" font-size="29.20" font-family='"Liberation Sans", sans-serif'>-40</text>
<text transform="translate(1013.24 2271.81) scale(1 1.0500)" x="0" y="0" font-size="29.20" font-family='"Liberation Sans", sans-serif'>-20</text>
<text transform="translate(1039.20 2209.32) scale(1 1.0500)" x="0" y="0" font-size="29.20" font-family='"Liberation Sans", sans-serif'>0</text>
<text transform="translate(1022.96 2146.82) scale(1 1.0500)" x="0" y="0" font-size="29.20" font-family='"Liberation Sans", sans-serif'>20</text>
<text transform="translate(1022.96 2084.32) scale(1 1.0500)" x="0" y="0" font-size="29.20" font-family='"Liberation Sans", sans-serif'>40</text>
<text transform="translate(1022.96 2021.83) scale(1 1.0500)" x="0" y="0" font-size="29.20" font-family='"Liberation Sans", sans-serif'>60</text>
<text transform="translate(1022.96 1959.33) scale(1 1.0500)" x="0" y="0" font-size="29.20" font-family='"Liberation Sans", sans-serif'>80</text>
<text transform="translate(1006.72 1896.84) scale(1 1.0500)" x="0" y="0" font-size="29.20" font-family='"Liberation Sans", sans-serif'>100</text>
<text transform="translate(1006.72 1834.34) scale(1 1.0500)" x="0" y="0" font-size="29.20" font-family='"Liberation Sans", sans-serif'>120</text>
<text transform="translate(1006.72 1771.85) scale(1 1.0500)" x="0" y="0" font-size="29.20" font-family='"Liberation Sans", sans-serif'>140</text>
<text transform="translate(1006.72 1709.35) scale(1 1.0500)" x="0" y="0" font-size="29.20" font-family='"Liberation Sans", sans-serif'>160</text>
<text transform="translate(1057.90 2401.85) scale(1 1.0500)" x="0" y="0" font-size="29.20" font-family='"Liberation Sans", sans-serif'>0.0</text>
<text transform="translate(1228.55 2401.85) scale(1 1.0500)" x="0" y="0" font-size="29.20" font-family='"Liberation Sans", sans-serif'>0.2</text>
<text transform="translate(1398.72 2401.85) scale(1 1.0500)" x="0" y="0" font-size="29.20" font-family='"Liberation Sans", sans-serif'>0.4</text>
<text transform="translate(1569.42 2401.85) scale(1 1.0500)" x="0" y="0" font-size="29.20" font-family='"Liberation Sans", sans-serif'>0.6</text>
<text transform="translate(1739.89 2401.85) scale(1 1.0500)" x="0" y="0" font-size="29.20" font-family='"Liberation Sans", sans-serif'>0.8</text>
<text transform="translate(1909.76 2401.85) scale(1 1.0500)" x="0" y="0" font-size="29.20" font-family='"Liberation Sans", sans-serif'>1.0</text>
<text x="1137.91" y="1717.03" font-size="35.58" font-family='"Liberation Sans", sans-serif'>(f)</text>
<text transform="translate(1007.60 2010.66) rotate(-90)" x="0" y="0" font-size="35.81" font-family='"Liberation Serif", serif'>&#916;</text><text transform="translate(1007.60 1988.64) rotate(-90)" x="0" y="0" font-size="37.50" font-family='"Liberation Sans", sans-serif'>P</text>
<text x="1496.98" y="2416.59" font-size="31.55" font-family='"Liberation Serif", serif' font-style="italic">Q</text>
<line x1="1504.10" y1="2391.50" x2="1519.50" y2="2391.50" stroke="#000" stroke-width="1.6"/>
<rect x="1714.75" y="1680.50" width="201.50" height="294.50" fill="none" stroke="#222" stroke-width="1.5"/>
<line x1="1719.00" y1="1708.75" x2="1799.50" y2="1708.75" stroke="#000000" stroke-width="1.35"/>
<rect x="1751.60" y="1701.35" width="14.80" height="14.80" fill="#000000"/>
<text transform="translate(1807.78 1721.75) scale(1.1200 1.0000)" x="0" y="0" font-size="35.50" font-family='"Liberation Serif", serif'>μ</text><text transform="translate(1828.16 1723.85) scale(1.1000 1.0000)" x="0" y="0" font-size="35.50" font-family='"Liberation Serif", serif'>=</text><text transform="translate(1848.70 1721.75) scale(0.9500 1.0000)" x="0" y="0" font-size="35.80" font-family='"Liberation Serif", serif'>0.01</text>
<line x1="1719.00" y1="1756.75" x2="1799.50" y2="1756.75" stroke="#FF0000" stroke-width="1.35"/>
<circle cx="1759.00" cy="1756.75" r="8.35" fill="#FF0000"/>
<text transform="translate(1807.78 1769.75) scale(1.1200 1.0000)" x="0" y="0" font-size="35.50" font-family='"Liberation Serif", serif'>μ</text><text transform="translate(1828.16 1771.85) scale(1.1000 1.0000)" x="0" y="0" font-size="35.50" font-family='"Liberation Serif", serif'>=</text><text transform="translate(1848.70 1769.75) scale(0.9500 1.0000)" x="0" y="0" font-size="35.80" font-family='"Liberation Serif", serif'>0.1</text>
<line x1="1719.00" y1="1805.00" x2="1799.50" y2="1805.00" stroke="#0000FF" stroke-width="1.35"/>
<polygon points="1759.00,1794.32 1769.30,1812.12 1748.70,1812.12" fill="#0000FF"/>
<text transform="translate(1807.78 1818.00) scale(1.1200 1.0000)" x="0" y="0" font-size="35.50" font-family='"Liberation Serif", serif'>μ</text><text transform="translate(1828.16 1820.10) scale(1.1000 1.0000)" x="0" y="0" font-size="35.50" font-family='"Liberation Serif", serif'>=</text><text transform="translate(1848.70 1818.00) scale(0.9500 1.0000)" x="0" y="0" font-size="35.80" font-family='"Liberation Serif", serif'>0.5</text>
<line x1="1719.00" y1="1853.25" x2="1799.50" y2="1853.25" stroke="#FF00FF" stroke-width="1.35"/>
<polygon points="1748.90,1846.13 1769.10,1846.13 1759.00,1863.93" fill="#FF00FF"/>
<text transform="translate(1807.78 1866.25) scale(1.1200 1.0000)" x="0" y="0" font-size="35.50" font-family='"Liberation Serif", serif'>μ</text><text transform="translate(1828.16 1868.35) scale(1.1000 1.0000)" x="0" y="0" font-size="35.50" font-family='"Liberation Serif", serif'>=</text><text transform="translate(1847.01 1866.25) scale(0.9500 1.0000)" x="0" y="0" font-size="35.80" font-family='"Liberation Serif", serif'>1.0</text>
<line x1="1719.00" y1="1901.75" x2="1799.50" y2="1901.75" stroke="#008000" stroke-width="1.35"/>
<polygon points="1759.00,1891.25 1769.50,1901.75 1759.00,1912.25 1748.50,1901.75" fill="#008000"/>
<text transform="translate(1807.78 1914.75) scale(1.1200 1.0000)" x="0" y="0" font-size="35.50" font-family='"Liberation Serif", serif'>μ</text><text transform="translate(1828.16 1916.85) scale(1.1000 1.0000)" x="0" y="0" font-size="35.50" font-family='"Liberation Serif", serif'>=</text><text transform="translate(1847.01 1914.75) scale(0.9500 1.0000)" x="0" y="0" font-size="35.80" font-family='"Liberation Serif", serif'>1.5</text>
<line x1="1719.00" y1="1950.00" x2="1799.50" y2="1950.00" stroke="#000080" stroke-width="1.35"/>
<polygon points="1748.32,1950.00 1766.12,1939.90 1766.12,1960.10" fill="#000080"/>
<text transform="translate(1807.78 1963.00) scale(1.1200 1.0000)" x="0" y="0" font-size="35.50" font-family='"Liberation Serif", serif'>μ</text><text transform="translate(1828.16 1965.10) scale(1.1000 1.0000)" x="0" y="0" font-size="35.50" font-family='"Liberation Serif", serif'>=</text><text transform="translate(1848.51 1963.00) scale(0.9500 1.0000)" x="0" y="0" font-size="35.80" font-family='"Liberation Serif", serif'>2.0</text>
</svg>
</body></html>
